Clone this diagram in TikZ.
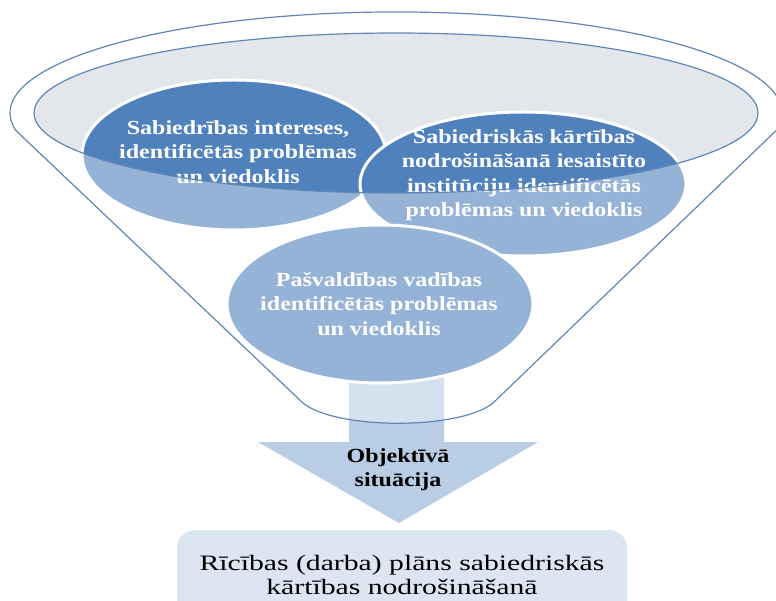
\documentclass[tikz,border=0pt]{standalone}
\usepackage{fontspec}
\setmainfont{Liberation Serif}
\newfontfamily\widefont[FakeStretch=1.2]{Liberation Serif}
\newfontfamily\planfont[FakeStretch=1.35]{Liberation Serif}
\usetikzlibrary{shapes.geometric}
\definecolor{darkblue}{RGB}{79,129,189}
\definecolor{rimblue}{RGB}{96,134,182}
\definecolor{mouthgray}{RGB}{227,231,236}
\definecolor{arrowblue}{RGB}{185,205,229}
\definecolor{planblue}{RGB}{220,230,242}
\tikzstyle{bubble}=[ellipse,draw=white,line width=3pt,fill=darkblue,inner sep=0pt]
\tikzstyle{bubbletext}=[text=white,align=center,font=\widefont\bfseries\fontsize{20}{24.5}\selectfont]
\tikzstyle{plan}=[rounded corners=18pt,fill=planblue,minimum width=450pt,minimum height=90pt,align=center,font=\planfont\fontsize{22}{24}\selectfont]

\begin{document}
\begin{tikzpicture}[x=1pt,y=1pt]
\useasboundingbox (0,0) rectangle (776,600);
% opening of the funnel
\fill[mouthgray] (396,487) ellipse [x radius=362,y radius=80];
% arrow out of the funnel
\fill[arrowblue] (349,230) -- (444,230) -- (444,158) -- (538,158) -- (399,77)
  -- (258,158) -- (349,158) -- cycle;
% the three views
\node (society) at (234,445) [bubble,minimum width=304,minimum height=150] {};
\node at (238,448) [bubbletext] {Sabiedrības intereses,\\identificētās problēmas\\un viedoklis};
\node (order) at (523,416) [bubble,minimum width=326,minimum height=144] {};
\node at (524,425) [bubbletext] {Sabiedriskās kārtības\\nodrošināšanā iesaistīto\\institūciju identificētās\\problēmas un viedoklis};
\node (council) at (380,296) [bubble,minimum width=306,minimum height=158] {};
\node at (379,296) [bubbletext] {Pašvaldības vadības\\identificētās problēmas\\un viedoklis};
% funnel body
\path[draw=rimblue,line width=1.2pt,fill=white,fill opacity=0.4,even odd rule]
  (15.9,469.5) arc [start angle=190,end angle=-10,x radius=386,y radius=101]
  -- (493,197) .. controls (460,170) and (336,170) .. (303,197) -- cycle
  (396,487) ellipse [x radius=362,y radius=80];
\node (situation) at (398,130) [align=center,font=\widefont\bfseries\fontsize{20}{24}\selectfont] {Objektīvā\\situācija};
\node (result) at (402,25) [plan] {Rīcības (darba) plāns sabiedriskās\\kārtības nodrošināšanā};
\end{tikzpicture}
\end{document}
